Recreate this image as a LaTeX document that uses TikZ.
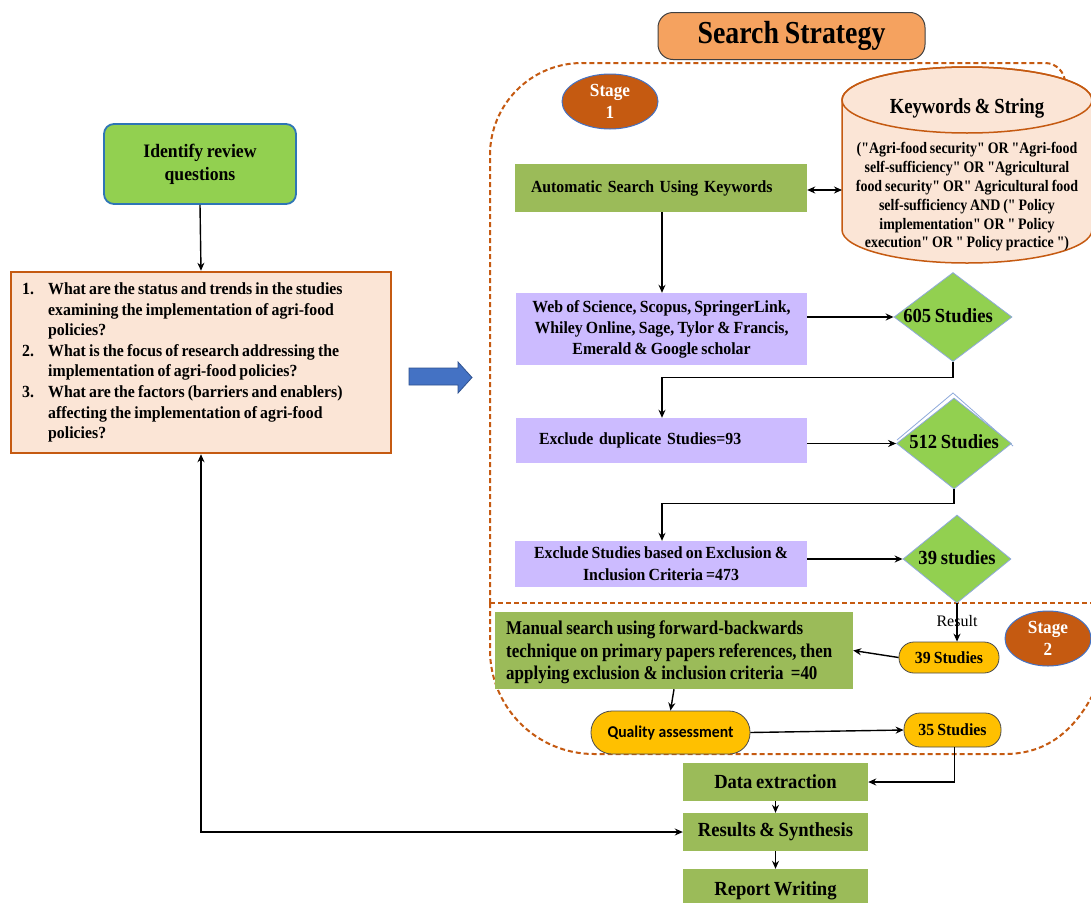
\documentclass[tikz,border=0pt]{standalone}
\usepackage{fontspec}
\setmainfont{Liberation Serif}[FakeStretch=0.93, WordSpace=0.8, Ligatures=TeXOff]
\newfontfamily\narrowf{Liberation Serif}[FakeStretch=0.87, WordSpace=0.85, Ligatures=TeXOff]
\newfontfamily\plainf{Liberation Serif}[Ligatures=TeXOff]
\newfontfamily\qafont{Carlito}[FakeStretch=0.95]
\usetikzlibrary{shapes.geometric,arrows.meta}

\definecolor{orangeD}{RGB}{197,90,17}
\definecolor{peach}{RGB}{251,229,214}
\definecolor{ssfill}{RGB}{245,162,95}
\definecolor{olive}{RGB}{155,187,89}
\definecolor{lav}{RGB}{204,187,255}
\definecolor{lgreen}{RGB}{146,208,80}
\definecolor{dblue}{RGB}{46,117,182}
\definecolor{mblue}{RGB}{68,114,196}
\definecolor{mbluedark}{RGB}{47,82,143}
\definecolor{lblue}{RGB}{142,169,219}
\definecolor{amber}{RGB}{255,192,0}

\newcommand\fs[2]{\fontsize{#1}{#2}\selectfont}

\tikzset{
  box/.style={rectangle, inner sep=0pt, font=\bfseries, text=black},
  greenbox/.style={box, fill=olive},
  lavbox/.style={box, fill=lav},
  dia/.style={diamond, fill=lgreen, draw=lblue, line width=0.8pt, inner sep=0pt},
  pill/.style={rectangle, inner sep=0pt, fill=amber, draw=black!70, line width=0.8pt, font=\bfseries},
  stage/.style={ellipse, inner sep=0pt, fill=orangeD, draw=mblue, line width=1pt, text=white, font=\bfseries\fs{18.5}{22}, align=center},
  arr/.style={-{Stealth[length=8pt,width=7pt]}, line width=1.4pt, draw=black},
  arrb/.style={{Stealth[length=8pt,width=7pt]}-{Stealth[length=8pt,width=7pt]}, line width=1.4pt, draw=black},
  region/.style={draw=orangeD, line width=2pt, dash pattern=on 5pt off 3pt},
  lbl/.style={inner sep=0pt, font=\bfseries}
}

\begin{document}
\begin{tikzpicture}[x=1pt,y=-1pt]
\useasboundingbox (0,0) rectangle (1091,902);
\fill[white] (0,0) rectangle (1091,902);

% dashed region of the search strategy
\draw[region] (490,603) -- (490,155) arc[start angle=180,end angle=90,radius=92pt] -- (1045,63) arc[start angle=90,end angle=0,radius=20pt] -- (1100,200) -- (1100,600);
\draw[region] (490,603) -- (490,650) arc[start angle=180,end angle=270,radius=104pt] -- (1005,754) to[out=0,in=-115] (1096,688);
\draw[region] (490,603) -- (1096,603);

% cylinder
\filldraw[fill=peach, draw=orangeD, line width=1.5pt]
  (842,100) -- (842,230) arc[start angle=180,end angle=360,x radius=125pt,y radius=33pt]
  -- (1092,100) arc[start angle=0,end angle=180,x radius=125pt,y radius=33pt] -- cycle;
\draw[orangeD, line width=1.5pt] (967,100) ellipse[x radius=125pt, y radius=33pt];
\node[lbl, font=\narrowf\bfseries\fs{21.5}{24}] (kwtitle) at (967,108) {Keywords \& String};
\node[lbl, font=\narrowf\bfseries\fs{16}{18.8}, align=center] (kwtext) at (967,197) {("Agri-food security" OR "Agri-food\\self-sufficiency" OR "Agricultural\\food security" OR" Agricultural food\\self-sufficiency AND (" Policy\\implementation" OR " Policy\\execution" OR " Policy practice ")};
\coordinate (cylL) at (842,190);

% title
\node[box, fill=ssfill, draw=black!75, line width=1pt, rounded corners=15pt, minimum width=267pt, minimum height=47pt, font=\narrowf\bfseries\fs{32}{34}] (ss) at (791.5,36) {Search Strategy};

% stages
\node[stage, minimum width=96pt, minimum height=55pt] (st1) at (610,101.5) {Stage\\1};
\node[stage, minimum width=86pt, minimum height=55pt] (st2) at (1048,638.5) {Stage\\2};

% left column
\node[box, fill=lgreen, draw=dblue, line width=1.8pt, rounded corners=10pt, minimum width=192pt, minimum height=80pt, align=center, font=\bfseries\fs{19}{23}] (q0) at (200,164) {Identify review\\questions};
\node[box, fill=peach, draw=orangeD, line width=2.5pt, minimum width=380pt, minimum height=181pt] (qs) at (201,362.5) {};
\node[lbl, anchor=base west, font=\bfseries\fs{17}{20.6}] (qtext) at (22,294.5) {\begin{tabular}[t]{@{}p{26pt}@{}l@{}}
1. & What are the status and trends in the studies\\
 & examining the implementation of agri-food\\
 & policies?\\
2. & What is the focus of research addressing the\\
 & implementation of agri-food policies?\\
3. & What are the factors (barriers and enablers)\\
 & affecting the implementation of agri-food\\
 & policies?
\end{tabular}};

% block arrow
\filldraw[fill=mblue, draw=mbluedark, line width=0.8pt] (409,368) -- (458,368) -- (458,362) -- (472,377.5) -- (458,393) -- (458,385) -- (409,385) -- cycle;

% stage 1 boxes
\node[greenbox, minimum width=292pt, minimum height=48pt, text width=260pt, inner xsep=16pt, align=left, font=\bfseries\fs{17}{20}] (auto) at (661,188) {Automatic Search Using Keywords};
\node[lavbox, minimum width=291pt, minimum height=72pt, align=center, font=\bfseries\fs{17}{21}] (web) at (661.5,329) {Web of Science, Scopus, SpringerLink,\\Whiley Online, Sage, Tylor \& Francis,\\Emerald \& Google scholar};
\node[lavbox, minimum width=291pt, minimum height=45pt, text width=245pt, inner xsep=23pt, align=left, font=\bfseries\fs{17}{20}] (dup) at (661.5,440.5) {Exclude duplicate Studies=93};
\node[lavbox, minimum width=292pt, minimum height=46pt, align=center, font=\bfseries\fs{17}{22}] (excl) at (661,564) {Exclude Studies based on Exclusion \&\\Inclusion Criteria =473};

% diamonds
\node[dia, minimum width=118pt, minimum height=89pt] (d605) at (953,317) {};
\node[lbl, font=\bfseries\fs{20}{22}] (t605) at (948,316) {605 Studies};
\draw[lblue, line width=0.8pt] (897,440) -- (953,393) -- (1013,446);
\node[dia, minimum width=115pt, minimum height=91pt] (d512) at (954,443.5) {};
\node[lbl, font=\bfseries\fs{20}{22}] (t512) at (954,442) {512 Studies};
\node[dia, minimum width=108pt, minimum height=88pt] (d39) at (957,559) {};
\node[lbl, font=\bfseries\fs{20}{22}] (t39) at (957,558) {39 studies};

% stage 2
\node[greenbox, minimum width=358pt, minimum height=77pt, font=\narrowf\bfseries\fs{19.5}{22.5}] (manual) at (674,650.5) {};
\node[lbl, anchor=west, align=left, font=\narrowf\bfseries\fs{19.5}{22.5}] (mtext) at (506,652.5) {Manual search using forward-backwards\\technique on primary papers references, then\\applying exclusion \& inclusion criteria\ \ =40};
\node[pill, rounded corners=15pt, minimum width=100pt, minimum height=31pt, font=\bfseries\fs{17}{20}] (res39) at (949,657.5) {39 Studies};
\node[pill, rounded corners=21pt, minimum width=159pt, minimum height=43pt, font=\qafont\bfseries\fs{16.5}{20}] (qa) at (670.5,732.5) {Quality assessment\hspace{8pt}};
\node[pill, rounded corners=16pt, minimum width=97pt, minimum height=34pt, font=\bfseries\fs{17}{20}] (s35) at (952.5,730) {35 Studies};

% final boxes
\node[greenbox, minimum width=185pt, minimum height=38pt, font=\bfseries\fs{20}{22}] (data) at (775.5,782) {Data extraction};
\node[greenbox, minimum width=185pt, minimum height=38pt, font=\bfseries\fs{20}{22}] (synth) at (775.5,832) {Results \& Synthesis};
\node[greenbox, minimum width=185pt, minimum height=44pt, font=\bfseries\fs{20}{22}] (report) at (775.5,891) {Report Writing};

% connectors
\draw[arr] (q0.south) -- (qs.north);
\draw[arrb] (auto.east |- cylL) -- (cylL);
\draw[arr] (auto.south -| 662,0) -- (web.north -| 662,0);
\draw[arr] (web.east |- d605.west) -- (d605.west);
\draw[arr] (d605.south) -- ++(0,15.5) -| (dup.north -| 662,0);
\draw[arr] (dup.east |- d512.west) -- (d512.west);
\draw[arr] (d512.south) -- ++(0,14) -| (excl.north -| 662,0);
\draw[arr] (excl.east |- d39.west) -- (d39.west);
\draw[arr] (d39.south) -- (d39.south |- res39.north);
\node[inner sep=0pt, font=\plainf\fs{16}{18}] (result) at (957,621.5) {Result};
\draw[arr] (res39.west) -- (manual.east);
\draw[arr] (manual.south) -- (qa.north);
\draw[arr] (qa.east) -- (s35.west);
\draw[arr] ([xshift=2pt]s35.south) |- (data.east);
\draw[arr] (data.south) -- (synth.north);
\draw[arr] (synth.south) -- (report.north);
\draw[arrb] (qs.south) |- (synth.west);
\end{tikzpicture}
\end{document}
